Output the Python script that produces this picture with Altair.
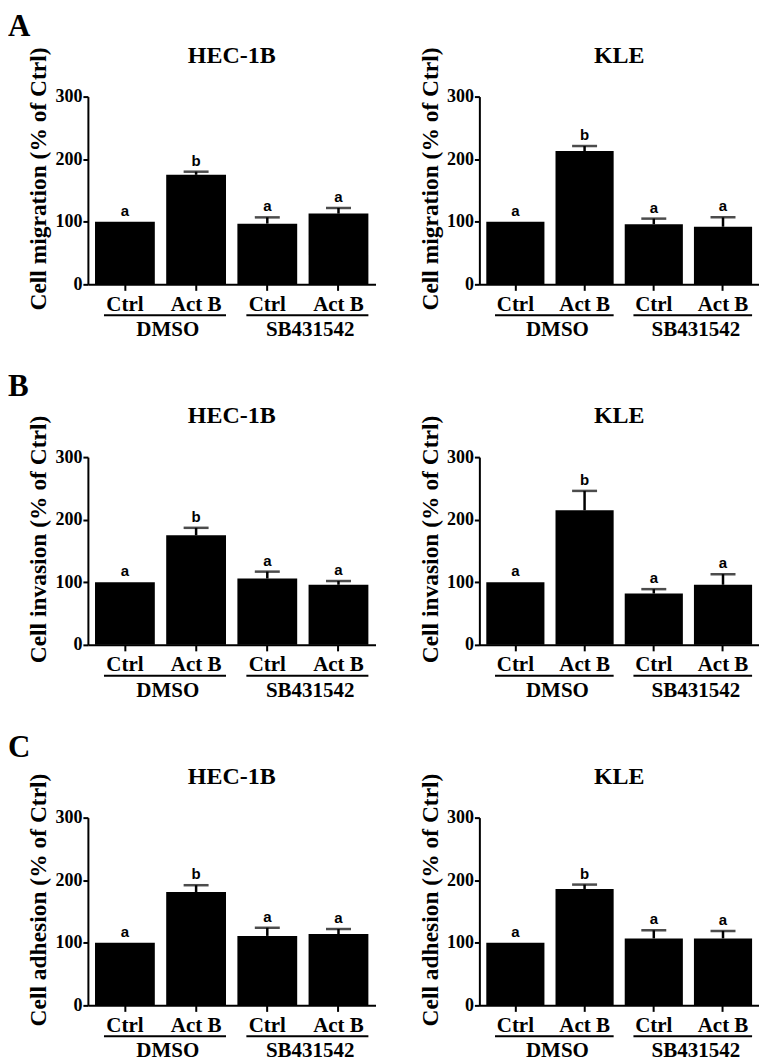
import altair as alt
import pandas as pd

# ---------------- data ----------------
conditions = ["Ctrl_DMSO", "ActB_DMSO", "Ctrl_SB", "ActB_SB"]
cond_labels = ["Ctrl", "Act B", "Ctrl", "Act B"]
sig_letters = ["a", "b", "a", "a"]
groups = ["DMSO", "SB431542"]
group_first = ["Ctrl_DMSO", "Ctrl_SB"]
group_last = ["ActB_DMSO", "ActB_SB"]

cell_lines = ["HEC-1B", "KLE"]
row_letters = ["A", "B", "C"]
y_titles = ["Cell migration (% of Ctrl)", "Cell invasion (% of Ctrl)", "Cell adhesion (% of Ctrl)"]

migration_hec_mean = [100, 175, 97, 113]
migration_hec_sem = [0, 5, 10, 9]
migration_kle_mean = [100, 213, 96, 92]
migration_kle_sem = [0, 8, 9, 15]

invasion_hec_mean = [100, 175, 106, 96]
invasion_hec_sem = [0, 12, 11, 6]
invasion_kle_mean = [100, 215, 82, 96]
invasion_kle_sem = [0, 31, 7, 17]

adhesion_hec_mean = [100, 181, 111, 114]
adhesion_hec_sem = [0, 11, 13, 8]
adhesion_kle_mean = [100, 186, 107, 107]
adhesion_kle_sem = [0, 7, 13, 12]

# ---------------- style ----------------
SERIF = "Liberation Serif"
SANS = "Liberation Sans"
H = 188
W_LEFT = 288
W_RIGHT = 280

label_map = "{" + ",".join(f"'{c}':'{l}'" for c, l in zip(conditions, cond_labels)) + "}"


def panel(mean, sem, ytitle, title, width, letter, letter_opacity):
    df = pd.DataFrame({"cond": conditions, "mean": mean, "sem": sem, "letter": sig_letters})
    df["top"] = df["mean"] + df["sem"]
    gdf = pd.DataFrame({"group": groups, "first": group_first, "last": group_last})

    xscale = alt.Scale(domain=conditions, paddingInner=0.16, paddingOuter=0.1)
    yscale = alt.Scale(domain=[0, 300])

    base = alt.Chart(df)
    bars = base.mark_bar(color="black").encode(
        x=alt.X("cond:N", scale=xscale, title=None,
                axis=alt.Axis(labelExpr=f"{label_map}[datum.value]", labelAngle=0)),
        y=alt.Y("mean:Q", scale=yscale, title=ytitle,
                axis=alt.Axis(values=[0, 100, 200, 300])),
    )
    err = base.transform_filter("datum.sem > 0").mark_rule(color="black", strokeWidth=2.5).encode(
        x=alt.X("cond:N"),
        y=alt.Y("mean:Q"),
        y2="top:Q",
    )
    cap = base.transform_filter("datum.sem > 0").mark_tick(color="black", thickness=2.5, size=25).encode(
        x=alt.X("cond:N"),
        y=alt.Y("top:Q"),
    )
    sig = base.mark_text(font=SANS, fontWeight="bold", fontSize=15, baseline="bottom", dy=-3, color="black").encode(
        x=alt.X("cond:N"),
        y=alt.Y("top:Q"),
        text="letter:N",
    )
    gbase = alt.Chart(gdf)
    under = gbase.mark_rule(color="black", strokeWidth=2).encode(
        x=alt.X("first:N", bandPosition=0.15),
        x2=alt.X2("last:N", bandPosition=1),
        y=alt.value(H + 31),
    )
    gtext = gbase.mark_text(font=SERIF, fontWeight="bold", fontSize=21, baseline="middle", color="black", dx=13).encode(
        x=alt.X("first:N", bandPosition=1),
        y=alt.value(H + 46),
        text="group:N",
    )
    ttl = alt.Chart(pd.DataFrame({"t": [title]})).mark_text(
        font=SERIF, fontWeight="bold", fontSize=24, align="center", baseline="alphabetic", color="black",
    ).encode(x=alt.value(width / 2), y=alt.value(-34), text="t:N")
    lbl = alt.Chart(pd.DataFrame({"t": [letter]})).mark_text(
        font=SERIF, fontWeight="bold", fontSize=31, align="left", baseline="alphabetic",
        color="black", opacity=letter_opacity,
    ).encode(x=alt.value(-80), y=alt.value(-61), text="t:N")

    return alt.layer(bars, err, cap, sig, under, gtext, ttl, lbl).properties(width=width, height=H)


data_rows = [
    (migration_hec_mean, migration_hec_sem, migration_kle_mean, migration_kle_sem),
    (invasion_hec_mean, invasion_hec_sem, invasion_kle_mean, invasion_kle_sem),
    (adhesion_hec_mean, adhesion_hec_sem, adhesion_kle_mean, adhesion_kle_sem),
]

rows = []
for i, (hm, hs, km, ks) in enumerate(data_rows):
    left = panel(hm, hs, y_titles[i], cell_lines[0], W_LEFT, row_letters[i], 1)
    right = panel(km, ks, y_titles[i], cell_lines[1], W_RIGHT, row_letters[i], 0)
    rows.append(alt.hconcat(left, right, spacing=24))

chart = (
    alt.vconcat(*rows, spacing=31)
    .properties(padding={"top": 2, "left": 0, "right": 0, "bottom": 0})
    .configure_view(stroke=None)
    .configure_axis(
        grid=False, domainWidth=2, domainColor="black", tickWidth=2, tickColor="black",
        labelFont=SERIF, labelFontWeight="bold", labelColor="black",
        titleFont=SERIF, titleFontWeight="bold", titleColor="black",
    )
    .configure_axisX(tickSize=6, labelFontSize=21, labelPadding=3)
    .configure_axisY(tickSize=5, labelFontSize=18, labelPadding=1, titleFontSize=23.5,
                     titlePadding=4, titleY=82)
)

chart.save("out.html", embed_options={"renderer": "svg", "actions": False})
